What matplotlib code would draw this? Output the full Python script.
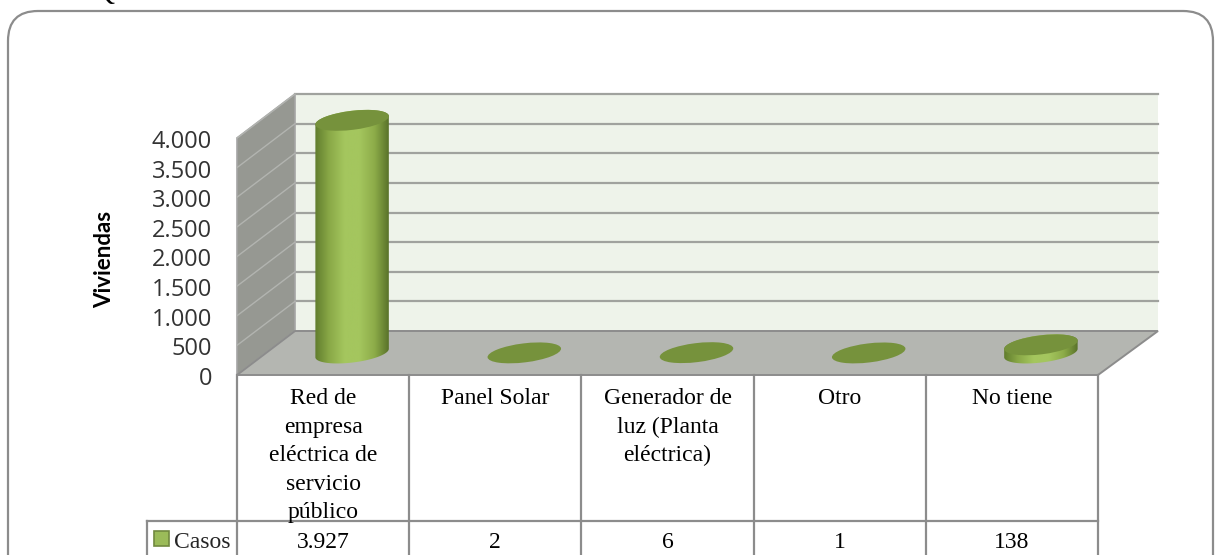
import numpy as np
import matplotlib
matplotlib.use("Agg")
import matplotlib.pyplot as plt
from matplotlib.colors import LinearSegmentedColormap
from matplotlib.patches import Ellipse, FancyBboxPatch, Polygon, Rectangle

categories = ["Red de\nempresa\neléctrica de\nservicio\npúblico", "Panel Solar",
              "Generador de\nluz (Planta\neléctrica)", "Otro", "No tiene"]
casos = [3927, 2, 6, 1, 138]
casos_labels = ["3.927", "2", "6", "1", "138"]
y_ticks = [0, 500, 1000, 1500, 2000, 2500, 3000, 3500, 4000]
y_tick_labels = ["0", "500", "1.000", "1.500", "2.000", "2.500", "3.000", "3.500", "4.000"]

# layout in pixels
left, right = 237, 1098
floor_y = 375
dx, dy = 58, -44
px_per_case = 237 / 4000
row_y = 521
line = "#8c8c8c"

fig = plt.figure(figsize=(12.2, 5.55), dpi=100)
ax = fig.add_axes([0, 0, 1, 1])
ax.set_xlim(0, 1220)
ax.set_ylim(555, 0)
ax.axis("off")

def val_y(v):
    return floor_y - v * px_per_case

# outer frame
ax.add_patch(FancyBboxPatch((8, 11), 1205, 600, boxstyle="round,pad=0,rounding_size=30",
                            fc="white", ec=line, lw=1.6, zorder=0.5))
ax.text(105, -7, "Q", family="Liberation Serif", fontsize=20, ha="center", va="center")

# walls
top = val_y(4000)
ax.add_patch(Polygon([(left + dx, top + dy), (right + dx + 2, top + dy),
                      (right + dx + 2, floor_y + dy), (left + dx, floor_y + dy)],
                     fc="#eef3ea", ec="none", zorder=1))
ax.add_patch(Polygon([(left, top), (left + dx, top + dy), (left + dx, floor_y + dy), (left, floor_y)],
                     fc="#969892", ec="#a5a5a5", lw=1.2, zorder=2))
ax.add_patch(Polygon([(left, floor_y), (left + dx, floor_y + dy),
                      (right + dx + 2, floor_y + dy), (right, floor_y)],
                     fc="#b4b6b1", ec=line, lw=1.4, zorder=3))
for t in y_ticks:
    y = val_y(t)
    if t > 0:
        ax.plot([left + dx, right + dx + 2], [y + dy, y + dy], color="#a0a29e", lw=1.6, zorder=1.5)
        ax.plot([left, left + dx], [y, y + dy], color="#b2b4b0", lw=1, zorder=2.5)

for t, lab in zip(y_ticks, y_tick_labels):
    ax.text(212, val_y(t) + 4, lab, family="Open Sans", fontsize=17, color="#333333",
            ha="right", va="center", zorder=6)
ax.text(105, 259, "Viviendas", family="Lato", fontsize=16, fontweight="bold", rotation=90,
        ha="center", va="center", color="black")

# cylinders
cell_w = (right - left) / len(casos)
cyl_w, cyl_h = 74, 19
tilt = np.deg2rad(-7)
body_cmap = LinearSegmentedColormap.from_list(
    "cyl", ["#5e7a2c", "#8aa947", "#a4c65e", "#a4c65e", "#8dac49", "#566f28"])

def outline(cx, y_base, y_top):
    pts = []
    for ts, cy in ((np.linspace(0, np.pi, 50), y_base), (np.linspace(np.pi, 2 * np.pi, 50), y_top)):
        ex = cyl_w / 2 * np.cos(ts)
        ey = cyl_h / 2 * np.sin(ts)
        pts.append(np.c_[cx + ex * np.cos(tilt) - ey * np.sin(tilt),
                         cy + ex * np.sin(tilt) + ey * np.cos(tilt)])
    return np.vstack(pts)

for i, v in enumerate(casos):
    cx = left + cell_w * (i + 0.5) + dx / 2
    y_base = floor_y + dy / 2
    y_top = y_base - v * px_per_case
    if v > 20:
        grad = np.linspace(0, 1, 128).reshape(1, -1)
        im = ax.imshow(grad, cmap=body_cmap, aspect="auto", zorder=4,
                       extent=[cx - cyl_w / 2 - 1, cx + cyl_w / 2 + 1, y_base + cyl_h, y_top - cyl_h])
        clip = Polygon(outline(cx, y_base, y_top), transform=ax.transData, fc="none", ec="none")
        ax.add_patch(clip)
        im.set_clip_path(clip)
    ax.add_patch(Ellipse((cx, y_top), cyl_w, cyl_h, angle=np.rad2deg(tilt), fc="#76923c", ec="none", zorder=5))
ax.set_xlim(0, 1220)
ax.set_ylim(555, 0)

# data table
for i in range(len(casos) + 1):
    x = left + cell_w * i
    ax.plot([x, x], [floor_y, 556], color=line, lw=1.6, zorder=6)
ax.plot([147, right], [row_y, row_y], color=line, lw=1.6, zorder=6)
ax.plot([147, 147], [row_y, 556], color=line, lw=1.6, zorder=6)
ax.add_patch(Rectangle((154, 531), 15, 15, fc="#9bbb59", ec="#71893f", lw=1.2, zorder=6))
ax.text(202, 543, "Casos", family="Liberation Serif", fontsize=17, color="#262626", ha="center", va="center")
for i, (c, lab) in enumerate(zip(categories, casos_labels)):
    x = left + cell_w * (i + 0.5)
    ax.text(x, 388, c, family="Liberation Serif", fontsize=17, color="black", ha="center", va="top",
            linespacing=1.47, zorder=7)
    ax.text(x, 543, lab, family="Liberation Serif", fontsize=17, color="black", ha="center", va="center", zorder=7)

fig.savefig("out.png", dpi=100)
